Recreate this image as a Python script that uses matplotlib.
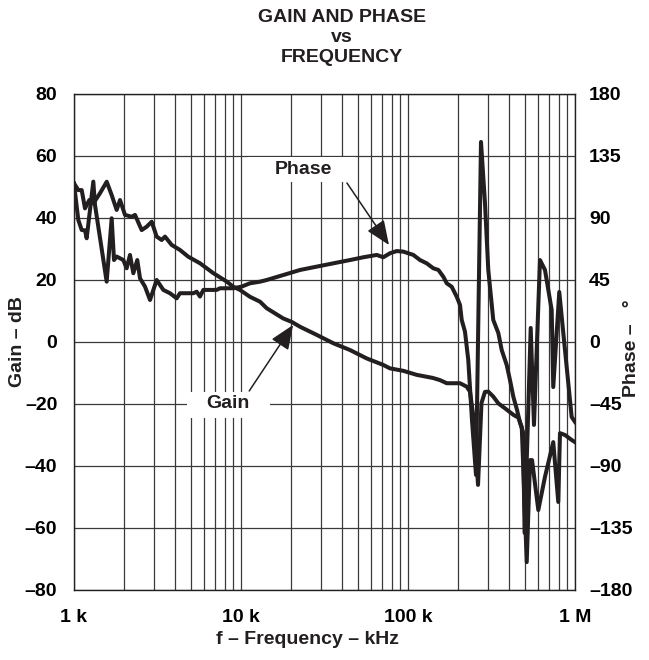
import matplotlib
matplotlib.use("Agg")
import matplotlib.pyplot as plt
from matplotlib.patches import Rectangle
from matplotlib.ticker import FixedLocator, NullFormatter, NullLocator

# ---------------- data ----------------
gain_freq_khz = [1.0, 1.061, 1.112, 1.164, 1.235, 1.305, 1.431, 1.570, 1.681, 1.801, 1.886, 2.02,
                 2.216, 2.319, 2.543, 2.725, 2.919, 3.126, 3.35, 3.507, 3.846, 4.31, 4.836, 5.68,
                 6.83, 8.21, 9.0, 9.86, 11.3, 13.0, 14.25, 17.9, 20.1, 22.6, 28.4, 35.7, 45.0,
                 56.6, 71.1, 78.0, 93.7, 112.8, 141.0, 155.5, 170.6, 204.8, 224.5, 235.0, 248.0,
                 262.6, 275.4, 289.0, 302.5, 324.0, 347.5, 381.0, 427.6, 458.0, 480.0, 514.0,
                 538.0, 553.0, 603.0, 661.0, 741.0, 794.0, 813.0, 871.0, 955.0, 1000.0]
gain_db = [51.2, 49.0, 49.0, 43.1, 45.8, 44.7, 48.0, 51.7, 47.4, 42.6, 45.8, 41.0,
           40.4, 41.0, 36.1, 37.2, 38.8, 34.0, 32.9, 34.0, 31.3, 29.7, 27.5, 25.4,
           22.2, 19.5, 17.8, 16.8, 14.6, 13.0, 10.9, 7.6, 6.5, 4.9, 2.3, -0.4, -2.6,
           -5.3, -7.4, -8.5, -9.3, -10.6, -11.6, -12.3, -13.3, -13.3, -14.4, -16.0, -25.2,
           -46.1, -19.7, -16.1, -16.0, -17.6, -19.8, -21.4, -23.5, -24.4, -27.4, -71.0,
           -38.1, -38.1, -54.2, -43.5, -32.3, -51.6, -29.4, -30.0, -31.6, -32.3]

phase_freq_khz = [1.0, 1.061, 1.112, 1.164, 1.191, 1.305, 1.336, 1.569, 1.681, 1.736, 1.801, 1.974,
                  2.067, 2.164, 2.266, 2.393, 2.485, 2.662, 2.852, 3.126, 3.427, 3.755, 4.119,
                  4.31, 5.18, 5.43, 5.68, 5.95, 7.15, 7.48, 9.0, 10.1, 11.3, 13.0, 14.25, 17.9,
                  22.6, 28.4, 35.7, 45.0, 54.0, 65.0, 71.1, 78.0, 85.5, 93.7, 107.6, 118.0,
                  129.4, 141.8, 152.0, 162.7, 170.6, 182.7, 195.7, 204.8, 209.7, 219.4, 229.6,
                  241.6, 255.4, 273.6, 289.0, 302.5, 324.0, 347.5, 364.0, 390.0, 408.0, 427.6,
                  449.6, 469.0, 488.5, 499.0, 543.0, 568.0, 617.0, 661.0, 725.0, 741.0, 805.0,
                  871.0, 955.0, 1000.0]
phase_deg = [115.0, 88.6, 81.3, 81.0, 75.3, 116.4, 99.4, 43.8, 89.8, 59.5, 62.0, 59.5,
             53.5, 63.2, 49.9, 59.5, 46.2, 40.2, 30.5, 45.0, 37.8, 35.4, 31.7,
             35.4, 35.4, 36.5, 33.0, 37.8, 37.8, 39.0, 39.0, 40.2, 42.6, 43.8, 45.0, 48.6,
             52.3, 54.7, 57.1, 59.5, 61.5, 63.2, 61.5, 64.4, 66.0, 65.6, 63.2, 59.5,
             57.1, 53.5, 52.3, 47.4, 42.6, 40.1, 32.9, 26.9, 16.0, 7.5, -13.1,
             -56.6, -96.5, 145.2, 100.9, 52.3, 16.0, 6.5, -5.8, -16.7, -27.6, -39.9,
             -49.3, -58.8, -65.3, -138.6, 10.2, -60.2, 59.5, 52.3, 23.2, -32.7, 36.3,
             -5.8, -54.4, -58.0]

x_ticks = [1, 10, 100, 1000]
x_tick_labels = ["1 k", "10 k", "100 k", "1 M"]
gain_ticks = [80, 60, 40, 20, 0, -20, -40, -60, -80]
gain_tick_labels = ["80", "60", "40", "20", "0", "\u201320", "\u201340", "\u201360", "\u201380"]
phase_ticks = [180, 135, 90, 45, 0, -45, -90, -135, -180]
phase_tick_labels = ["180", "135", "90", "45", "0", "\u201345", "\u201390", "\u2013135", "\u2013180"]

# ---------------- style ----------------
FONT = ["Liberation Sans Narrow", "Liberation Sans", "DejaVu Sans"]
plt.rcParams["font.family"] = FONT
plt.rcParams["font.weight"] = "bold"
INK = "#231f20"
GRID = "#3a3a3a"

fig = plt.figure(figsize=(6.49, 6.60), dpi=100)
W, H = 649, 660
L, R, T, B = 74, 575, 94, 590
ax = fig.add_axes([L / W, 1 - B / H, (R - L) / W, (B - T) / H])
ax.set_xscale("log")
ax.set_xlim(1, 1000)
ax.set_ylim(-80, 80)

ax.xaxis.set_major_locator(FixedLocator(x_ticks))
ax.set_xticklabels(x_tick_labels)
minor = [m * 10 ** d for d in range(3) for m in range(2, 10)]
ax.xaxis.set_minor_locator(FixedLocator(minor))
ax.xaxis.set_minor_formatter(NullFormatter())
ax.set_yticks(gain_ticks)
ax.set_yticklabels(gain_tick_labels)
ax.tick_params(axis="both", which="both", length=0)
ax.tick_params(axis="x", pad=14, labelsize=14)
ax.tick_params(axis="y", pad=12, labelsize=14)
ax.grid(True, which="both", axis="x", color=GRID, lw=0.9)
ax.grid(True, which="major", axis="y", color=GRID, lw=0.9)
for s in ax.spines.values():
    s.set_color(INK)
    s.set_linewidth(1.0)

ax.plot(gain_freq_khz, gain_db, color=INK, lw=2.9, solid_joinstyle="round", zorder=5)

ax2 = ax.twinx()
ax2.set_ylim(-180, 180)
ax2.set_yticks(phase_ticks)
ax2.set_yticklabels(phase_tick_labels)
ax2.tick_params(axis="y", length=0, pad=10, labelsize=14)
for s in ax2.spines.values():
    s.set_visible(False)
ax2.plot(phase_freq_khz, phase_deg, color=INK, lw=2.9, solid_joinstyle="round", zorder=5)

# label boxes (white, hide grid)
ax.add_patch(Rectangle((0.347, 0.823), 0.214, 0.050, transform=ax.transAxes,
                       facecolor="white", edgecolor="none", zorder=3))
ax.add_patch(Rectangle((0.2255, 0.347), 0.1655, 0.052, transform=ax.transAxes,
                       facecolor="white", edgecolor="none", zorder=3))
ax.text(23.5, 55.8, "Phase", ha="center", va="center", fontsize=14, color=INK, zorder=4)
ax.text(8.36, -20.0, "Gain", ha="center", va="center", fontsize=14, color=INK, zorder=4)

arrow = dict(arrowstyle="-|>,head_length=0.6,head_width=0.25", mutation_scale=25,
             lw=1.1, color=INK, shrinkA=0, shrinkB=0)
ax.annotate("", xy=(76.9, 31.3), xytext=(43.1, 51.3), arrowprops=arrow, zorder=6)
ax.annotate("", xy=(20.5, 5.5), xytext=(11.2, -15.8), arrowprops=arrow, zorder=6)

# titles and axis labels
fig.text(342 / W, 1 - 17 / H, "GAIN AND PHASE", ha="center", va="center", fontsize=14, color=INK)
fig.text(342 / W, 1 - 37 / H, "vs", ha="center", va="center", fontsize=14, color=INK)
fig.text(342 / W, 1 - 58 / H, "FREQUENCY", ha="center", va="center", fontsize=14, color=INK)
fig.text(307 / W, 1 - 640 / H, "f \u2013 Frequency \u2013 kHz", ha="center", va="center",
         fontsize=14, color=INK)
fig.text(18 / W, 1 - 342 / H, "Gain \u2013 dB", ha="center", va="center", rotation=90,
         fontsize=14, color=INK)
fig.text(632 / W, 1 - 348 / H, "Phase \u2013   \u00b0", ha="center", va="center", rotation=90,
         fontsize=14, color=INK)

fig.savefig("out.png", dpi=100)
